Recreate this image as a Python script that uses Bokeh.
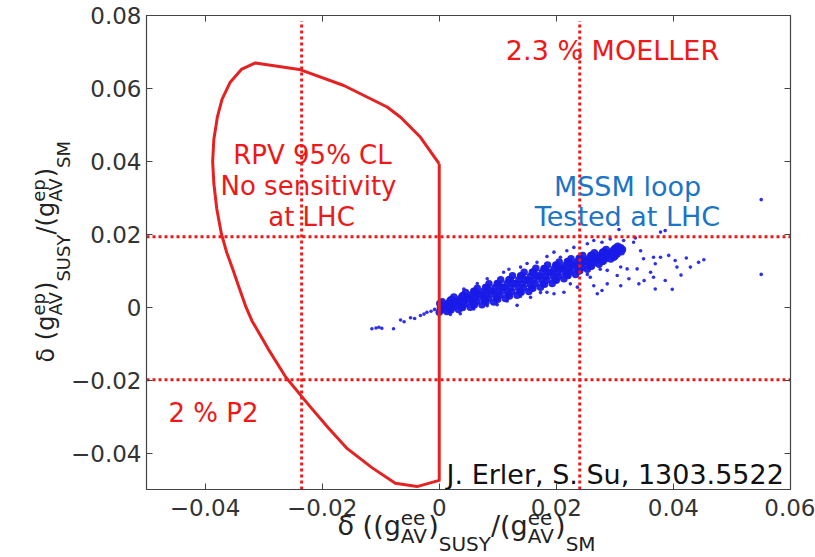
import math
from bokeh.plotting import figure
from bokeh.models import Label, LinearAxis, FixedTicker, CustomJSTickFormatter, ColumnDataSource
from bokeh.core.properties import value
from bokeh.embed import file_html
from bokeh.resources import INLINE

# ---------------- data ----------------
x_ticks = [-0.04, -0.02, 0.0, 0.02, 0.04, 0.06]
y_ticks = [-0.04, -0.02, 0.0, 0.02, 0.04, 0.06, 0.08]
x_limits = [-0.05, 0.06]
y_limits = [-0.05, 0.08]

# RPV 95% CL contour (closed)
rpv_x = [0.0, -0.0032, -0.0066, -0.0089, -0.0163, -0.0239, -0.0314, -0.0338, -0.0357,
         -0.0371, -0.0379, -0.0385, -0.0387, -0.0385, -0.0380, -0.0372, -0.0363, -0.0352,
         -0.0341, -0.0330, -0.0320, -0.0292, -0.0262, -0.0222, -0.0190, -0.0157, -0.0115,
         -0.0075, -0.0038, 0.0, 0.0]
rpv_y = [0.0393, 0.0466, 0.0521, 0.0549, 0.0608, 0.0652, 0.0670, 0.0652, 0.0617,
         0.0570, 0.0521, 0.0460, 0.0400, 0.0340, 0.0270, 0.0201, 0.0150, 0.0101,
         0.0050, 0.0000, -0.0037, -0.0115, -0.0192, -0.0270, -0.0330, -0.0388, -0.0440,
         -0.0483, -0.0492, -0.0475, 0.0393]

# experimental sensitivity lines (dotted)
moeller_x = [-0.0235, 0.0240]
p2_y = [-0.0199, 0.0193]

# MSSM loop scan: dense core of the band
core_pts = [
    (0.0000, -0.0014), (0.0004, -0.0007), (0.0002, -0.0002), (0.0007, 0.0004), (0.0001, 0.0010), (0.0005, 0.0015),
    (0.0013, -0.0012), (0.0018, -0.0006), (0.0015, 0.0000), (0.0011, 0.0006), (0.0016, 0.0012), (0.0019, 0.0019),
    (0.0020, -0.0008), (0.0024, 0.0000), (0.0022, 0.0007), (0.0027, 0.0014), (0.0021, 0.0021), (0.0025, 0.0028),
    (0.0033, -0.0006), (0.0038, 0.0001), (0.0035, 0.0008), (0.0031, 0.0016), (0.0036, 0.0023), (0.0039, 0.0030),
    (0.0040, -0.0001), (0.0044, 0.0009), (0.0042, 0.0017), (0.0047, 0.0025), (0.0041, 0.0033), (0.0045, 0.0040),
    (0.0053, 0.0000), (0.0058, 0.0009), (0.0055, 0.0017), (0.0051, 0.0026), (0.0056, 0.0035), (0.0059, 0.0044),
    (0.0060, 0.0006), (0.0064, 0.0016), (0.0062, 0.0025), (0.0067, 0.0035), (0.0061, 0.0044), (0.0065, 0.0052),
    (0.0073, 0.0007), (0.0078, 0.0017), (0.0075, 0.0025), (0.0071, 0.0035), (0.0076, 0.0044), (0.0079, 0.0054),
    (0.0080, 0.0014), (0.0084, 0.0025), (0.0082, 0.0035), (0.0087, 0.0045), (0.0081, 0.0055), (0.0085, 0.0064),
    (0.0093, 0.0014), (0.0098, 0.0025), (0.0095, 0.0034), (0.0091, 0.0044), (0.0096, 0.0054), (0.0099, 0.0065),
    (0.0100, 0.0022), (0.0104, 0.0034), (0.0102, 0.0044), (0.0107, 0.0055), (0.0101, 0.0065), (0.0105, 0.0075),
    (0.0113, 0.0024), (0.0118, 0.0034), (0.0115, 0.0044), (0.0111, 0.0054), (0.0116, 0.0065), (0.0119, 0.0075),
    (0.0120, 0.0031), (0.0124, 0.0043), (0.0122, 0.0054), (0.0127, 0.0065), (0.0121, 0.0076), (0.0125, 0.0086),
    (0.0133, 0.0033), (0.0138, 0.0043), (0.0135, 0.0053), (0.0131, 0.0064), (0.0136, 0.0075), (0.0139, 0.0086),
    (0.0140, 0.0041), (0.0144, 0.0053), (0.0142, 0.0064), (0.0147, 0.0075), (0.0141, 0.0086), (0.0145, 0.0096),
    (0.0153, 0.0043), (0.0158, 0.0053), (0.0155, 0.0063), (0.0151, 0.0074), (0.0156, 0.0085), (0.0159, 0.0096),
    (0.0160, 0.0052), (0.0164, 0.0064), (0.0162, 0.0075), (0.0167, 0.0086), (0.0161, 0.0097), (0.0165, 0.0107),
    (0.0173, 0.0055), (0.0178, 0.0065), (0.0175, 0.0075), (0.0171, 0.0085), (0.0176, 0.0096), (0.0179, 0.0106),
    (0.0180, 0.0063), (0.0184, 0.0075), (0.0182, 0.0085), (0.0187, 0.0096), (0.0181, 0.0106), (0.0185, 0.0116),
    (0.0193, 0.0065), (0.0198, 0.0076), (0.0195, 0.0085), (0.0191, 0.0095), (0.0196, 0.0105), (0.0199, 0.0116),
    (0.0200, 0.0074), (0.0204, 0.0085), (0.0202, 0.0095), (0.0207, 0.0105), (0.0201, 0.0115), (0.0205, 0.0124),
    (0.0213, 0.0078), (0.0218, 0.0088), (0.0215, 0.0096), (0.0211, 0.0106), (0.0216, 0.0115), (0.0219, 0.0125),
    (0.0220, 0.0087), (0.0224, 0.0097), (0.0222, 0.0106), (0.0227, 0.0116), (0.0221, 0.0125), (0.0225, 0.0133),
    (0.0233, 0.0090), (0.0238, 0.0099), (0.0235, 0.0107), (0.0231, 0.0116), (0.0236, 0.0125), (0.0239, 0.0134),
    (0.0240, 0.0100), (0.0244, 0.0109), (0.0242, 0.0118), (0.0247, 0.0126), (0.0241, 0.0134), (0.0245, 0.0142),
    (0.0253, 0.0104), (0.0258, 0.0112), (0.0255, 0.0119), (0.0251, 0.0127), (0.0256, 0.0134), (0.0259, 0.0142),
    (0.0260, 0.0112), (0.0264, 0.0121), (0.0262, 0.0128), (0.0267, 0.0135), (0.0261, 0.0143), (0.0265, 0.0149),
    (0.0273, 0.0118), (0.0278, 0.0125), (0.0275, 0.0131), (0.0271, 0.0138), (0.0276, 0.0144), (0.0279, 0.0151),
    (0.0280, 0.0126), (0.0284, 0.0133), (0.0282, 0.0139), (0.0287, 0.0146), (0.0281, 0.0152), (0.0285, 0.0158),
    (0.0293, 0.0132), (0.0298, 0.0137), (0.0295, 0.0143), (0.0291, 0.0148), (0.0296, 0.0154), (0.0299, 0.0159),
    (0.0300, 0.0140), (0.0304, 0.0146), (0.0302, 0.0151), (0.0307, 0.0157), (0.0301, 0.0162), (0.0305, 0.0167),
    (0.0311, 0.0152), (0.0313, 0.0158), (0.0310, 0.0163),
]
# MSSM loop scan: sparse points around the band
sparse_pts = [
    (-0.0115, -0.0059), (-0.0108, -0.0057), (-0.0103, -0.0055), (-0.0098, -0.0058),
    (-0.0078, -0.0059), (-0.0066, -0.0035), (-0.0060, -0.0040), (-0.0049, -0.0029),
    (-0.0042, -0.0031), (-0.0032, -0.0023), (-0.0026, -0.0019), (-0.0021, -0.0014),
    (-0.0014, -0.0011), (-0.0008, -0.0006),
    (0.0307, 0.0213), (0.0378, 0.0206), (0.0386, 0.0210), (0.0315, 0.0183), (0.0332, 0.0178),
    (0.0344, 0.0155), (0.0349, 0.0133), (0.0366, 0.0137), (0.0378, 0.0137), (0.0392, 0.0142),
    (0.0406, 0.0110), (0.0369, 0.0119), (0.0361, 0.0096), (0.0338, 0.0105), (0.0321, 0.0105),
    (0.0310, 0.0110), (0.0324, 0.0078), (0.0341, 0.0064), (0.0366, 0.0082), (0.0386, 0.0073),
    (0.0369, 0.0050), (0.0310, 0.0059), (0.0304, 0.0087), (0.0287, 0.0064), (0.0278, 0.0046),
    (0.0270, 0.0037), (0.0264, 0.0059), (0.0258, 0.0082), (0.0253, 0.0090), (0.0275, 0.0104),
    (0.0287, 0.0101), (0.0236, 0.0055), (0.0224, 0.0064), (0.0213, 0.0041), (0.0196, 0.0037),
    (0.0184, 0.0041), (0.0173, 0.0040), (0.0156, 0.0027), (0.0139, 0.0030), (0.0133, 0.0005),
    (0.0116, 0.0017), (0.0099, 0.0007), (0.0082, 0.0004), (0.0059, -0.0005), (0.0036, -0.0018),
    (0.0019, -0.0020),
    (0.0196, 0.0151), (0.0207, 0.0137), (0.0230, 0.0164), (0.0253, 0.0174), (0.0264, 0.0183),
    (0.0278, 0.0178), (0.0292, 0.0187), (0.0167, 0.0123), (0.0139, 0.0110), (0.0110, 0.0096),
    (0.0082, 0.0078), (0.0065, 0.0065), (0.0042, 0.0050), (0.0119, 0.0104), (0.0150, 0.0120),
    (0.0184, 0.0139), (0.0218, 0.0155),
    (0.0403, 0.0128), (0.0422, 0.0135), (0.0429, 0.0110), (0.0443, 0.0123), (0.0452, 0.0130),
    (0.0398, 0.0049), (0.0413, 0.0088), (0.0350, 0.0073), (0.0335, 0.0190),
    (0.0550, 0.0295), (0.0550, 0.0090),
]

core_x = [p[0] for p in core_pts]
core_y = [p[1] for p in core_pts]
sparse_x = [p[0] for p in sparse_pts]
sparse_y = [p[1] for p in sparse_pts]

# ---------------- styles ----------------
FONT = "DejaVu Sans"
RED = "#ee1818"
BLUE_TXT = "#1c74c6"
BLUE_PT = "#1a1ae8"
AXIS = "#444444"
W, H = 815, 557
L, R, T, B = 146, 790, 15, 489   # frame edges in canvas pixels

p = figure(width=W, height=H, x_range=tuple(x_limits), y_range=tuple(y_limits),
           output_backend="svg", toolbar_location=None,
           min_border_left=L, min_border_right=W - R, min_border_top=T, min_border_bottom=H - B)
p.title.visible = False
p.grid.visible = False
p.background_fill_color = "white"
p.border_fill_color = "white"
p.outline_line_color = AXIS
p.outline_line_width = 1.2

fmt = CustomJSTickFormatter(code="""
if (Math.abs(tick) < 1e-12) { return "0"; }
var s = Math.abs(tick).toFixed(2);
return (tick < 0 ? "\\u2212" : "") + s;
""")
blank = CustomJSTickFormatter(code='return "";')

for ax, ticks in ((p.xaxis[0], x_ticks), (p.yaxis[0], y_ticks)):
    ax.ticker = FixedTicker(ticks=ticks)
    ax.formatter = fmt
    ax.major_tick_in = 6
    ax.major_tick_out = 0
    ax.minor_tick_line_color = None
    ax.axis_line_color = AXIS
    ax.major_tick_line_color = AXIS
    ax.major_label_text_font = FONT
    ax.major_label_text_font_size = "23px"
    ax.major_label_text_color = "#333333"
p.xaxis[0].major_label_standoff = 9
p.yaxis[0].major_label_standoff = 5

for ticks, side in ((x_ticks, "above"), (y_ticks, "right")):
    ax = LinearAxis(ticker=FixedTicker(ticks=ticks), formatter=blank, major_tick_in=6, major_tick_out=0,
                    minor_tick_line_color=None, axis_line_color=AXIS, major_tick_line_color=AXIS,
                    major_label_standoff=0)
    p.add_layout(ax, side)

# scatter
p.scatter(core_x, core_y, size=7.5, color=BLUE_PT, alpha=0.95, line_width=0)
p.scatter(sparse_x, sparse_y, size=3.6, color=BLUE_PT, alpha=0.9, line_width=0)

# dotted constraint lines
for xv in moeller_x:
    p.line([xv, xv], [y_limits[0], 0.0785], line_color=RED, line_width=3, line_dash="3 3")
for yv in p2_y:
    p.line([x_limits[0], x_limits[1]], [yv, yv], line_color=RED, line_width=3, line_dash="3 3")

# contour
p.line(rpv_x, rpv_y, line_color="#e52222", line_width=3, line_join="round")


def put(text, X, Y, size, color="#222222", align="left"):
    p.add_layout(Label(x=X - L, y=B - Y, x_units="screen", y_units="screen", text=text,
                       text_font=FONT, text_font_size=f"{size}px", text_color=color,
                       text_align=align, text_baseline="alphabetic"))


# in-frame annotations
put("RPV 95% CL", 312, 154, 26, RED, "center")
put("No sensitivity", 308, 185, 26, RED, "center")
put("at LHC", 311, 216, 26, RED, "center")
put("2.3 % MOELLER", 612, 50, 27, RED, "center")
put("MSSM loop", 627, 186, 27, BLUE_TXT, "center")
put("Tested at LHC", 627, 216, 27, BLUE_TXT, "center")
put("2 % P2", 168, 412, 26, RED, "left")
put("J. Erler, S. Su, 1303.5522", 446, 474, 27, "#111111", "left")

# axis titles, composed of pieces (main text, super- and subscripts), drawn as an
# unclipped text renderer outside the frame
ADV = {"δ": .612, " ": .318, "(": .390, ")": .390, "g": .635, "e": .615, "p": .635, "A": .684,
       "V": .684, "S": .635, "U": .732, "Y": .611, "M": .863, "/": .337}
XS = (x_limits[1] - x_limits[0]) / (R - L)
YS = (y_limits[1] - y_limits[0]) / (B - T)


def to_data(X, Y):
    return x_limits[0] + (X - L) * XS, y_limits[1] - (Y - T) * YS


lab = dict(x=[], y=[], text=[], size=[], angle=[])


def compose(parts, start, base, main, scr, offs, rotated):
    pos = start
    for part in parts:
        segs = [("sup", part[1]), ("sub", part[2])] if part[0] == "pair" else [part]
        adv = 0
        for kind, txt in segs:
            size = main if kind == "main" else scr
            if rotated:
                X, Y = base + offs[kind], pos
            else:
                X, Y = pos, base + offs[kind]
            dx, dy = to_data(X, Y)
            lab["x"].append(dx)
            lab["y"].append(dy)
            lab["text"].append(txt)
            lab["size"].append(f"{size}px")
            lab["angle"].append(math.pi / 2 if rotated else 0.0)
            adv = max(adv, sum(ADV[c] for c in txt) * size)
        pos = pos - adv if rotated else pos + adv


x_parts = [("main", "δ ((g"), ("pair", "ee", "AV"), ("main", ")"), ("sub2", "SUSY"),
           ("main", "/(g"), ("pair", "ee", "AV"), ("main", ")"), ("sub2", "SM")]
y_parts = [("main", "δ (g"), ("pair", "ep", "AV"), ("main", ")"), ("sub2", "SUSY"),
           ("main", "/(g"), ("pair", "ep", "AV"), ("main", ")"), ("sub2", "SM")]
compose(x_parts, 337, 525, 27, 20, {"main": 0, "sup": -8, "sub": 10, "sub2": 18}, False)
compose(y_parts, 362, 45, 24, 18, {"main": 0, "sup": -7, "sub": 10, "sub2": 18}, True)

p.text(x="x", y="y", text="text", angle="angle", text_font_size="size", source=ColumnDataSource(lab),
       text_font=value(FONT), text_color="#222222", text_align="left", text_baseline="alphabetic",
       level="overlay")

open("out.html", "w").write(file_html(p, INLINE))
